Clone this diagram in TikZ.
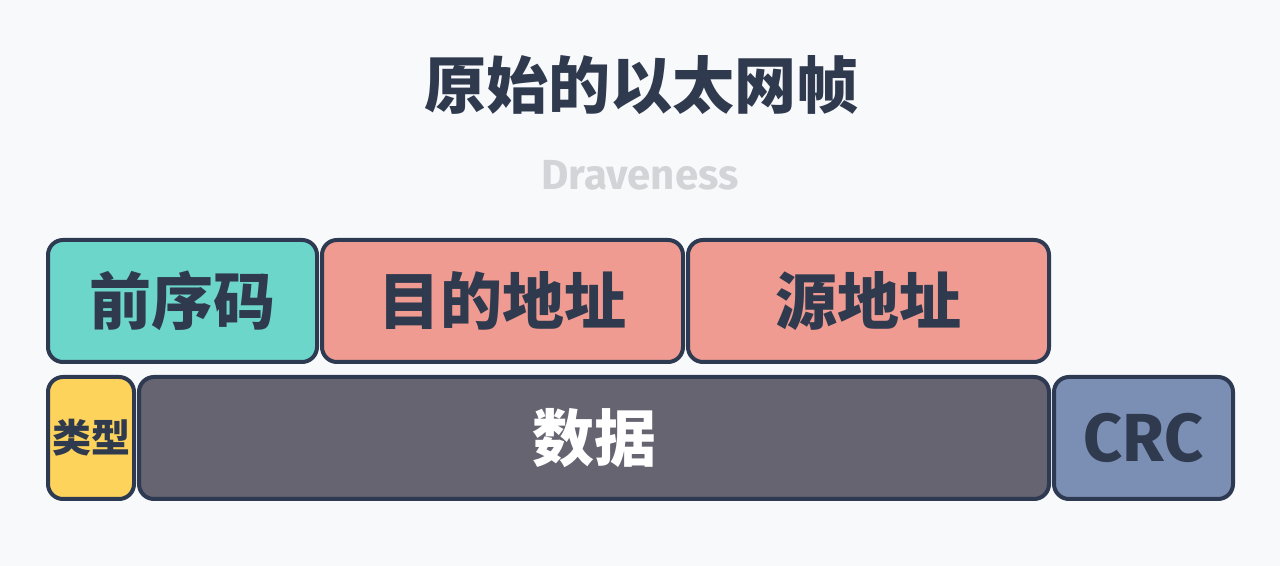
\documentclass[tikz,border=0pt]{standalone}
\usepackage{fontspec}
\newfontfamily\cjk{Noto Sans CJK SC}
\newfontfamily\latin{Fira Sans}
\definecolor{bg}{HTML}{F8F9FB}
\definecolor{edge}{HTML}{2D3A52}
\definecolor{ink}{HTML}{2F3A4F}
\definecolor{teal}{HTML}{6DD6CB}
\definecolor{salmon}{HTML}{F09B91}
\definecolor{yel}{HTML}{FDD35C}
\definecolor{dgray}{HTML}{656470}
\definecolor{bluegray}{HTML}{7B8EB4}
\definecolor{faint}{HTML}{D2D4D8}
\tikzset{
  field/.style={draw=edge, line width=2pt, rounded corners=7.5pt, inner sep=0pt, text=ink},
}
\begin{document}
\begin{tikzpicture}[x=0.5pt,y=-0.5pt]
\fill[bg] (0,0) rectangle (1280,566);
\useasboundingbox (0,0) rectangle (1280,566);
\node[text=ink, font=\cjk\bfseries\fontsize{31pt}{36pt}\selectfont] (title) at (641,85) {原始的以太网帧};
\node[text=faint, font=\latin\bfseries\fontsize{21pt}{25pt}\selectfont] (sub) at (640,175) {Draveness};
% top row
\node[field, fill=teal, minimum width=134.5pt, minimum height=61pt, font=\cjk\bfseries\fontsize{31pt}{36pt}\selectfont] (pre) at (182.5,301) {前序码};
\node[field, fill=salmon, minimum width=180.5pt, minimum height=61pt, font=\cjk\bfseries\fontsize{31pt}{36pt}\selectfont] (dst) at (502.5,301) {目的地址};
\node[field, fill=salmon, minimum width=180.5pt, minimum height=61pt, font=\cjk\bfseries\fontsize{31pt}{36pt}\selectfont] (src) at (868.5,301) {源地址};
% bottom row
\node[field, fill=yel, minimum width=43pt, minimum height=61pt, font=\cjk\bfseries\fontsize{19.5pt}{22pt}\selectfont] (type) at (91,438) {类型};
\node[field, fill=dgray, text=white, minimum width=455pt, minimum height=61pt, font=\cjk\bfseries\fontsize{31pt}{36pt}\selectfont] (data) at (594,438) {数据};
\node[field, fill=bluegray, minimum width=89.5pt, minimum height=61pt, font=\latin\bfseries\fontsize{34pt}{40pt}\selectfont] (crc) at (1143.5,438) {CRC};
\end{tikzpicture}
\end{document}
